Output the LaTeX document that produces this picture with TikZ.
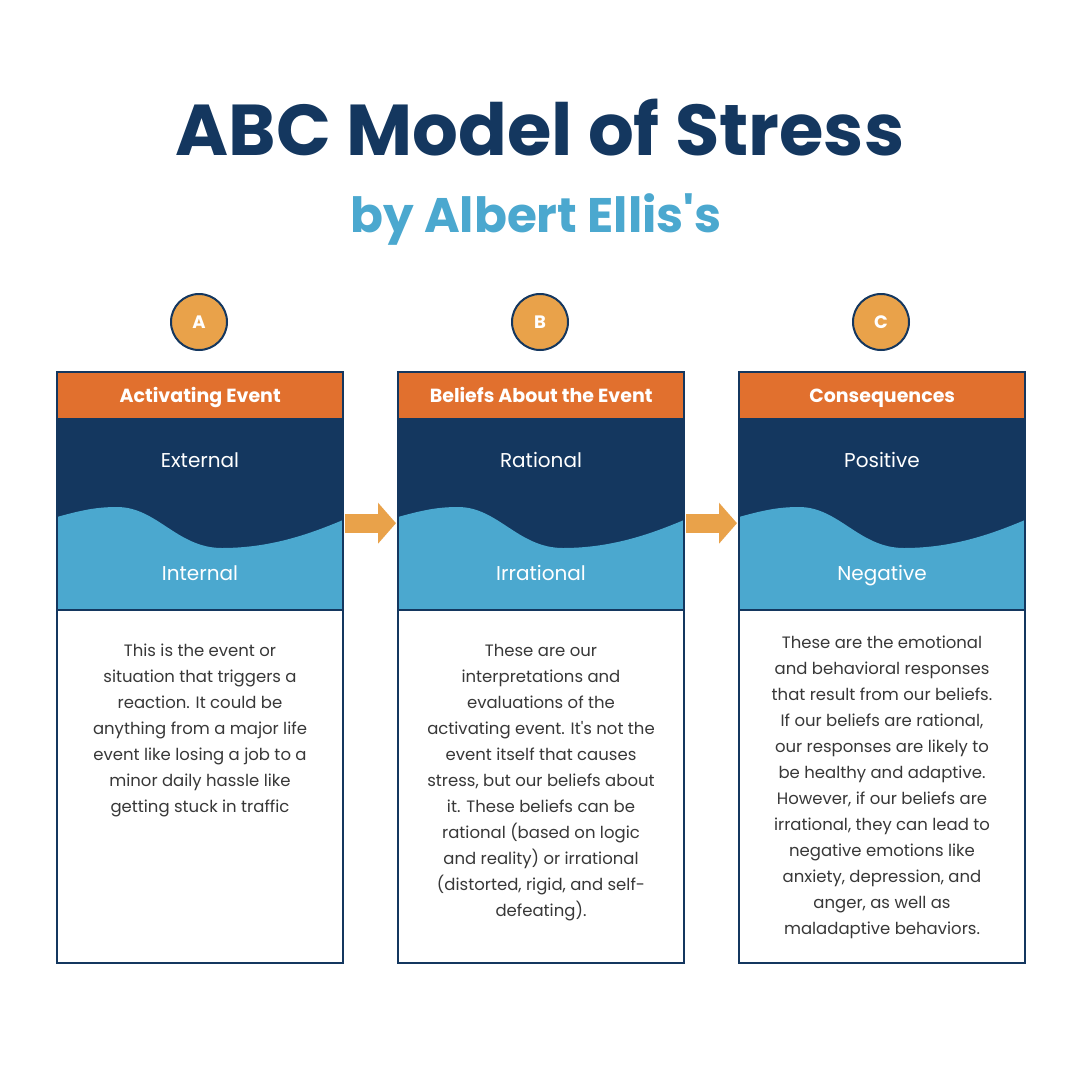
\documentclass[tikz,border=0pt]{standalone}
\usepackage{fontspec}
\setmainfont{Poppins}
\usetikzlibrary{arrows.meta,positioning}
\definecolor{navy}{HTML}{14375F}
\definecolor{skyblue}{HTML}{4BA8CF}
\definecolor{orangehead}{HTML}{E1702E}
\definecolor{amber}{HTML}{E9A24A}
\definecolor{bodygrey}{HTML}{383838}

\begin{document}
\begin{tikzpicture}[x=1pt, y=-1pt]
\tikzset{
  head/.style={rectangle, fill=orangehead, anchor=north west, minimum width=286pt, minimum height=46pt, inner sep=0pt, text=white, text height=18pt, text depth=4pt, font=\bfseries\fontsize{19}{23}\selectfont},
  band/.style={rectangle, fill=navy, anchor=north west, minimum width=286pt, minimum height=192pt, inner sep=0pt},
  letter/.style={circle, fill=amber, draw=navy, line width=2pt, minimum size=56pt, inner sep=0pt, text=white, font=\bfseries\fontsize{18}{22}\selectfont},
  kind/.style={text=white, text height=18pt, text depth=4pt, font=\fontsize{20}{24}\selectfont},
  body/.style={anchor=north, align=center, text=bodygrey, inner sep=0pt, font=\fontsize{16.5}{26}\selectfont},
  frame/.style={draw=navy, line width=2pt},
  arr/.style={draw=amber, line width=19pt, -{Triangle[length=18pt,width=40pt]}, shorten <=2pt, shorten >=2pt},
}
\useasboundingbox (0,0) rectangle (1080,1080);
\fill[white] (0,0) rectangle (1080,1080);

% title
\node[anchor=base, text=navy, font=\bfseries\fontsize{72}{80}\selectfont] (title) at (540,155) {ABC Model of Stress};
\node[anchor=base, text=skyblue, font=\bfseries\fontsize{48.5}{56}\selectfont] (subtitle) at (536,232) {by Albert Ellis\textquotesingle s};

% letters
\node[letter] (la) at (199,322) {A};
\node[letter] (lb) at (540,322) {B};
\node[letter] (lc) at (881,322) {C};

% headers and bands
\node[head] (headA) at (57,372) {Activating Event};
\node[head] (headB) at (398,372) {Beliefs About the Event};
\node[head] (headC) at (739,372) {Consequences};
\node[band] (bandA) at (57,418) {};
\node[band] (bandB) at (398,418) {};
\node[band] (bandC) at (739,418) {};

% waves
\foreach \x in {57,398,739}{
  \fill[skyblue] (\x,517) .. controls (\x+25,510) and (\x+40,507) .. (\x+60,507)
    .. controls (\x+100,507) and (\x+120,548) .. (\x+165,548)
    .. controls (\x+215,548) and (\x+255,533) .. (\x+286,520)
    -- (\x+286,610) -- (\x,610) -- cycle;
  \draw[frame] (\x,372) rectangle (\x+286,963);
  \draw[frame] (\x,610) -- (\x+286,610);
}

\node[kind] (extA) at (200,460) {External};
\node[kind] (intA) at (200,573) {Internal};
\node[kind] (extB) at (541,460) {Rational};
\node[kind] (intB) at (541,573) {Irrational};
\node[kind] (extC) at (882,460) {Positive};
\node[kind] (intC) at (882,573) {Negative};

% body texts
\node[body] (textA) at (200,644) {This is the event or\\situation that triggers a\\reaction. It could be\\anything from a major life\\event like losing a job to a\\minor daily hassle like\\getting stuck in traffic};
\node[body] (textB) at (541,644) {These are our\\interpretations and\\evaluations of the\\activating event. It\textquotesingle s not the\\event itself that causes\\stress, but our beliefs about\\it. These beliefs can be\\rational (based on logic\\and reality) or irrational\\(distorted, rigid, and self-\\defeating).};
\node[body] (textC) at (882,636) {These are the emotional\\and behavioral responses\\that result from our beliefs.\\If our beliefs are rational,\\our responses are likely to\\be healthy and adaptive.\\However, if our beliefs are\\irrational, they can lead to\\negative emotions like\\anxiety, depression, and\\anger, as well as\\maladaptive behaviors.};

% arrows
\draw[arr] ([yshift=-9pt]bandA.east) -- ([yshift=-9pt]bandB.west);
\draw[arr] ([yshift=-9pt]bandB.east) -- ([yshift=-9pt]bandC.west);
\end{tikzpicture}
\end{document}
